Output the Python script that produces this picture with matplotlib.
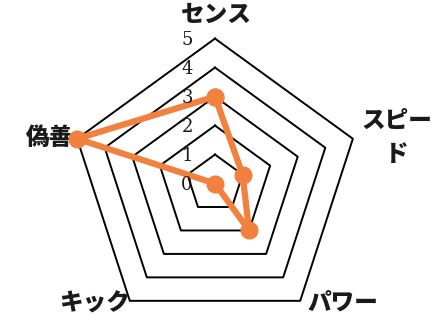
import numpy as np
import matplotlib
matplotlib.use("Agg")
import matplotlib.pyplot as plt

categories = ["センス", "スピード", "パワー", "キック", "偽善"]
values = [3, 1, 2, 0, 5]
ring_levels = [1, 2, 3, 4, 5]
tick_labels = ["0", "1", "2", "3", "4", "5"]

plt.rcParams['font.family'] = ['Noto Sans CJK JP', 'DejaVu Sans']

fig = plt.figure(figsize=(4.47, 3.20), dpi=100)
ax = fig.add_axes([0.1566, -0.0266, 0.6488, 0.906], projection='polar')
ax.set_theta_offset(np.pi / 2)
ax.set_theta_direction(-1)
ax.set_ylim(0, 5)
ax.axis('off')

n = len(categories)
theta = np.linspace(0, 2 * np.pi, n, endpoint=False)
theta_c = np.append(theta, theta[0])

for lvl in ring_levels:
    ax.plot(theta_c, [lvl] * (n + 1), color='black', lw=1.4, zorder=1, clip_on=False)

vals_c = values + [values[0]]
ax.plot(theta_c, vals_c, color='#F2803E', lw=4.5, marker='o', markersize=12,
        zorder=3, clip_on=False)

for i, t in enumerate(tick_labels):
    ax.annotate(t, xy=(0, i), xytext=(-28, -1.5), textcoords='offset pixels',
                ha='center', va='center', fontsize=13, family=['DejaVu Serif'],
                color='#1a1a1a', zorder=4, annotation_clip=False)

label_specs = {
    "センス": ("センス", (0, 23.5), 'center'),
    "スピード": ("スピー\nド", (44, 1.7), 'center'),
    "パワー": ("パワー", (43, -2), 'center'),
    "キック": ("キック", (-35, -2), 'center'),
    "偽善": ("偽善", (-5, 1.5), 'right'),
}
for i, cat in enumerate(categories):
    txt, off, ha = label_specs[cat]
    ax.annotate(txt, xy=(theta[i], 5), xytext=off, textcoords='offset pixels',
                ha=ha, va='center', fontsize=17, fontweight='black',
                color='#1a1a1a', linespacing=1.45, annotation_clip=False, zorder=2)

fig.savefig("out.png", dpi=100)
